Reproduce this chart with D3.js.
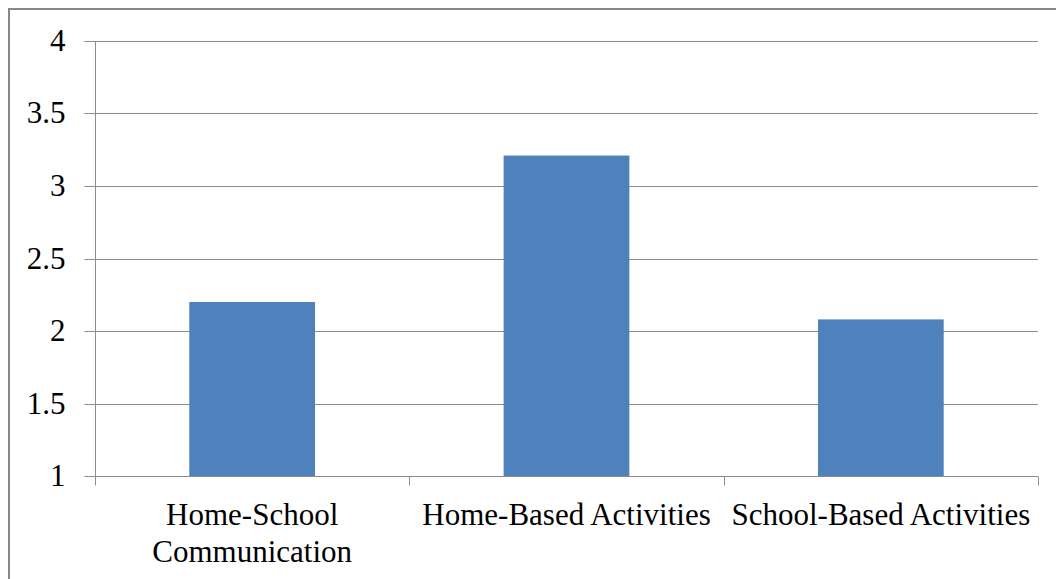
<!DOCTYPE html>
<html>
<head>
<meta charset="utf-8">
<script src="https://cdn.jsdelivr.net/npm/d3@7"></script>
<style>
  body { margin: 0; background: #fff; }
  svg { display: block; }
  .tick text { font-family: "Liberation Serif", "Times New Roman", serif; fill: #000; }
</style>
</head>
<body>
<div id="chart"></div>
<script>
// chart data
var categories = ["Home-School Communication", "Home-Based Activities", "School-Based Activities"];
var values = [2.2, 3.21, 2.08];
var yTicks = [1, 1.5, 2, 2.5, 3, 3.5, 4];

var W = 1056, H = 579;
var margin = {top: 41, right: 18, bottom: 103, left: 95};
var width = W - margin.left - margin.right;
var height = H - margin.top - margin.bottom;

var svg = d3.select("#chart").append("svg")
    .attr("width", W)
    .attr("height", H);

// outer frame
svg.append("rect")
    .attr("x", 9).attr("y", 9)
    .attr("width", W + 20).attr("height", H + 20)
    .attr("fill", "none")
    .attr("stroke", "#878787")
    .attr("stroke-width", 2);

var g = svg.append("g")
    .attr("transform", "translate(" + margin.left + "," + margin.top + ")");

var x = d3.scaleBand()
    .domain(categories)
    .range([0, width])
    .paddingInner(0.6)
    .paddingOuter(0.3);

var y = d3.scaleLinear()
    .domain([1, 4])
    .range([height, 0]);

// gridlines
g.selectAll(".grid")
    .data(yTicks.slice(1))
    .enter().append("line")
    .attr("class", "grid")
    .attr("x1", 0).attr("x2", width)
    .attr("y1", function (d) { return Math.round(y(d)) + 0.5; })
    .attr("y2", function (d) { return Math.round(y(d)) + 0.5; })
    .attr("stroke", "#8c8c8c")
    .attr("stroke-width", 1);

// bars
g.selectAll(".bar")
    .data(values)
    .enter().append("rect")
    .attr("class", "bar")
    .attr("x", function (d, i) { return x(categories[i]); })
    .attr("y", function (d) { return y(d); })
    .attr("width", x.bandwidth())
    .attr("height", function (d) { return height - y(d); })
    .attr("fill", "#4f81bd");

// y axis
var yAxis = d3.axisLeft(y)
    .tickValues(yTicks)
    .tickSize(11)
    .tickPadding(19)
    .tickFormat(function (d) { return d; });

var ya = g.append("g").attr("transform", "translate(0.5,0)").call(yAxis);
ya.selectAll("line").attr("stroke", "#8c8c8c")
    .attr("transform", function () { return null; });
ya.selectAll(".tick").attr("transform", function (d) {
    return "translate(0," + (Math.round(y(d)) + 0.5) + ")";
});
ya.select(".domain").attr("stroke", "#8c8c8c").attr("d", "M0," + height + "V0");
ya.selectAll("text").attr("font-size", 31);

// x axis with boundary ticks
var xa = g.append("g").attr("transform", "translate(0," + (height + 0.5) + ")");
xa.append("line")
    .attr("x1", 0).attr("x2", width)
    .attr("stroke", "#8c8c8c");
var step = x.step();
var bounds = d3.range(categories.length + 1).map(function (i) {
    return x(categories[0]) - x.step() * x.paddingInner() / 2 + i * step;
});
xa.selectAll(".xt")
    .data(bounds)
    .enter().append("line")
    .attr("x1", function (d) { return Math.round(d) + 0.5; })
    .attr("x2", function (d) { return Math.round(d) + 0.5; })
    .attr("y1", 0).attr("y2", 9)
    .attr("stroke", "#8c8c8c");

// category labels
var labelLines = [["Home-School", "Communication"], ["Home-Based Activities"], ["School-Based Activities"]];
xa.selectAll(".xl")
    .data(categories)
    .enter().append("text")
    .attr("class", "xl")
    .attr("text-anchor", "middle")
    .attr("font-family", "'Liberation Serif', 'Times New Roman', serif")
    .attr("font-size", 31)
    .attr("fill", "#000")
    .attr("transform", function (d) { return "translate(" + (x(d) + x.bandwidth() / 2) + ",48)"; })
    .each(function (d, i) {
        var t = d3.select(this);
        labelLines[i].forEach(function (s, j) {
            t.append("tspan").attr("x", 0).attr("y", j * 37).text(s);
        });
    });
</script>
</body>
</html>
